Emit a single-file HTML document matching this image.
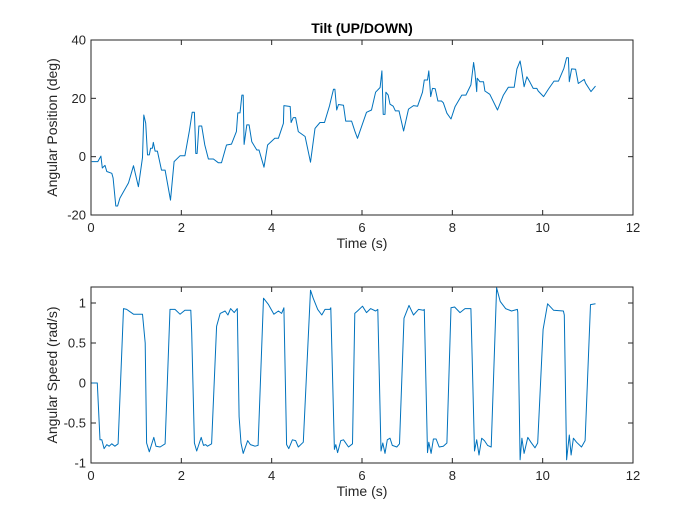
<!DOCTYPE html>
<html><head><meta charset="utf-8"><style>
body{margin:0;background:#fff}
svg{display:block;font-family:"Liberation Sans",Arial,sans-serif}
</style></head><body>
<svg id="fig" width="700" height="525" viewBox="0 0 700 525" xmlns="http://www.w3.org/2000/svg">
<rect width="700" height="525" fill="#fff"/>
<g id="top"></g>
<g id="bot"></g>
</svg>
<script>
const posT=[0.015,0.15,0.22,0.25,0.31,0.35,0.46,0.49,0.55,0.59,0.64,0.83,0.94,1.05,1.14,1.17,1.21,1.25,1.29,1.32,1.36,1.38,1.42,1.47,1.56,1.64,1.76,1.84,1.97,2.08,2.18,2.24,2.29,2.32,2.35,2.39,2.45,2.52,2.60,2.71,2.82,2.89,3.00,3.11,3.22,3.25,3.30,3.34,3.37,3.39,3.45,3.50,3.56,3.67,3.72,3.83,3.91,4.07,4.15,4.26,4.27,4.41,4.43,4.48,4.53,4.59,4.74,4.86,4.96,5.07,5.17,5.28,5.33,5.37,5.40,5.44,5.48,5.59,5.64,5.77,5.845,5.90,6.10,6.21,6.30,6.40,6.44,6.47,6.51,6.53,6.58,6.62,6.69,6.74,6.82,6.92,7.03,7.14,7.23,7.34,7.38,7.45,7.48,7.52,7.56,7.62,7.68,7.76,7.80,7.88,7.97,8.06,8.21,8.30,8.41,8.47,8.50,8.54,8.55,8.61,8.69,8.72,8.83,9.00,9.13,9.24,9.37,9.43,9.50,9.53,9.59,9.65,9.72,9.79,9.87,9.90,10.02,10.13,10.25,10.35,10.47,10.53,10.57,10.59,10.64,10.73,10.79,10.92,10.95,11.07,11.17];
const posV=[-1.7,-1.7,0.2,-3.9,-3.0,-5.1,-5.7,-7.3,-16.9,-16.9,-14.2,-9.0,-3.1,-10.3,-0.3,14.3,11.5,0.6,0.6,2.9,2.9,4.9,1.9,1.9,-4.6,-4.6,-14.9,-1.7,0.3,0.3,9.1,15.2,15.2,1.1,1.1,10.5,10.5,4.0,-0.8,-0.8,-2.1,-2.1,4.0,4.3,8.6,15.0,15.0,21.1,21.1,4.2,10.9,10.9,5.1,2.3,2.3,-3.6,4.0,6.3,6.3,11.4,17.5,17.2,11.7,13.4,13.4,8.6,6.9,-1.9,9.7,11.7,11.7,17.4,20.6,23.1,23.1,16.0,17.9,17.6,12.2,12.2,8.6,6.3,15.2,16.0,22.1,23.7,29.4,14.5,14.5,22.1,21.1,18.0,17.3,15.7,15.7,8.8,16.3,17.5,17.3,22.1,26.3,26.3,29.4,20.6,23.4,23.3,19.1,19.1,18.5,14.9,12.9,17.1,21.1,21.1,24.6,32.3,29.1,22.3,26.9,25.7,25.7,22.5,21.4,16.0,21.1,23.8,23.8,30.1,32.8,30.3,24.0,27.4,25.5,23.4,23.4,22.5,20.6,23.2,25.9,25.9,30.3,33.9,33.9,25.7,30.1,30.0,25.1,26.5,25.2,22.3,24.2];
const spdT=[0.015,0.14,0.20,0.24,0.29,0.35,0.40,0.46,0.53,0.60,0.72,0.79,0.94,1.14,1.20,1.23,1.29,1.39,1.44,1.53,1.64,1.75,1.86,1.97,2.08,2.21,2.23,2.29,2.34,2.44,2.49,2.54,2.58,2.67,2.78,2.86,2.97,3.03,3.09,3.17,3.24,3.28,3.32,3.37,3.47,3.53,3.63,3.70,3.82,3.93,4.05,4.15,4.22,4.27,4.33,4.38,4.46,4.53,4.59,4.70,4.86,4.92,5.02,5.11,5.18,5.29,5.31,5.39,5.42,5.46,5.53,5.59,5.70,5.79,5.84,5.90,6.01,6.10,6.19,6.30,6.35,6.42,6.46,6.51,6.56,6.62,6.67,6.77,6.83,6.93,7.04,7.14,7.25,7.36,7.38,7.45,7.48,7.53,7.58,7.64,7.71,7.80,7.88,7.97,8.05,8.17,8.28,8.41,8.43,8.49,8.54,8.59,8.65,8.71,8.78,8.86,8.98,9.06,9.18,9.31,9.44,9.45,9.50,9.54,9.59,9.67,9.74,9.83,9.89,10.01,10.11,10.24,10.46,10.48,10.53,10.59,10.63,10.68,10.75,10.86,10.94,11.06,11.17];
const spdV=[0,0,-0.71,-0.71,-0.82,-0.77,-0.79,-0.76,-0.79,-0.76,0.93,0.92,0.86,0.86,0.5,-0.75,-0.86,-0.68,-0.79,-0.80,-0.76,0.92,0.92,0.86,0.91,0.91,0.63,-0.75,-0.85,-0.68,-0.78,-0.77,-0.79,-0.76,0.71,0.87,0.90,0.85,0.93,0.88,0.93,-0.42,-0.75,-0.88,-0.72,-0.77,-0.79,-0.78,1.06,0.98,0.86,0.90,0.87,0.94,-0.77,-0.82,-0.71,-0.72,-0.80,-0.74,1.16,1.06,0.92,0.85,0.92,0.92,0.94,-0.83,-0.77,-0.87,-0.72,-0.71,-0.80,-0.76,0.87,0.90,0.96,0.88,0.93,0.90,0.92,-0.85,-0.75,-0.88,-0.71,-0.69,-0.78,-0.80,-0.76,0.81,0.97,0.85,0.92,0.91,0.92,-0.87,-0.74,-0.88,-0.70,-0.70,-0.80,-0.79,-0.75,0.94,0.95,0.88,0.93,0.93,0.5,-0.85,-0.71,-0.90,-0.69,-0.72,-0.78,-0.80,1.19,1.02,0.93,0.90,0.92,0.88,-0.96,-0.69,-0.88,-0.68,-0.74,-0.81,-0.75,0.67,0.99,0.91,0.90,0.85,-0.96,-0.65,-0.90,-0.69,-0.74,-0.80,-0.72,0.98,0.99];
const xTicks=[0,2,4,6,8,10,12];
const posTicks=[-20,0,20,40];
const spdTicks=[-1,-0.5,0,0.5,1];
const spdTickLabels=["-1","-0.5","0","0.5","1"];

const NS="http://www.w3.org/2000/svg";
function mk(p,tag,attrs){const e=document.createElementNS(NS,tag);for(const k in attrs)e.setAttribute(k,attrs[k]);p.appendChild(e);return e;}
function plot(g,top,bot,ymin,ymax,yt,ytl,T,V,ylabel,title){
  const L=91,R=633;
  const sx=t=>L+(t-0)/(12-0)*(R-L);
  const sy=v=>bot-(v-ymin)/(ymax-ymin)*(bot-top);
  const box=mk(g,'rect',{x:L,y:top,width:R-L,height:bot-top,fill:'#fff',stroke:'#262626','stroke-width':1});
  
  
  xTicks.forEach(t=>{
    const x=sx(t);
    mk(g,'line',{x1:x,y1:bot,x2:x,y2:bot-5,stroke:'#262626'});
    mk(g,'line',{x1:x,y1:top,x2:x,y2:top+5,stroke:'#262626'});
    const tx=mk(g,'text',{x:x,y:bot+17,'text-anchor':'middle','font-size':13,fill:'#262626'});
    tx.textContent=t;
    
    
  });
  yt.forEach((v,i)=>{
    const y=sy(v);
    mk(g,'line',{x1:L,y1:y,x2:L+5,y2:y,stroke:'#262626'});
    mk(g,'line',{x1:R,y1:y,x2:R-5,y2:y,stroke:'#262626'});
    const tx=mk(g,'text',{x:L-5,y:y+4.5,'text-anchor':'end','font-size':13,fill:'#262626'});
    tx.textContent=ytl[i];
    
    
  });
  const d=T.map((t,i)=>(i?'L':'M')+sx(t).toFixed(1)+' '+sy(V[i]).toFixed(1)).join(' ');
  const ln=mk(g,'path',{d:d,fill:'none',stroke:'#0072bd','stroke-width':1,'stroke-linejoin':'round'});
  
  
  const xl=mk(g,'text',{x:(L+R)/2,y:bot+33,'text-anchor':'middle','font-size':14,fill:'#262626'});
  xl.textContent='Time (s)';
  
  
  const yl=mk(g,'text',{x:0,y:0,'text-anchor':'middle','font-size':14,fill:'#262626',transform:`translate(57,${(top+bot)/2}) rotate(-90)`});
  yl.textContent=ylabel;
  
  
  if(title){
    const tt=mk(g,'text',{x:(L+R)/2,y:top-7,'text-anchor':'middle','font-size':14,'font-weight':'bold',fill:'#000'});
    tt.textContent=title;
    
    
  }
}
plot(document.getElementById('top'),40,215,-20,40,posTicks,posTicks.map(String),posT,posV,'Angular Position (deg)','Tilt (UP/DOWN)');
plot(document.getElementById('bot'),287,463,-1,1.2,spdTicks,spdTickLabels,spdT,spdV,'Angular Speed (rad/s)',null);
</script>
</body></html>
